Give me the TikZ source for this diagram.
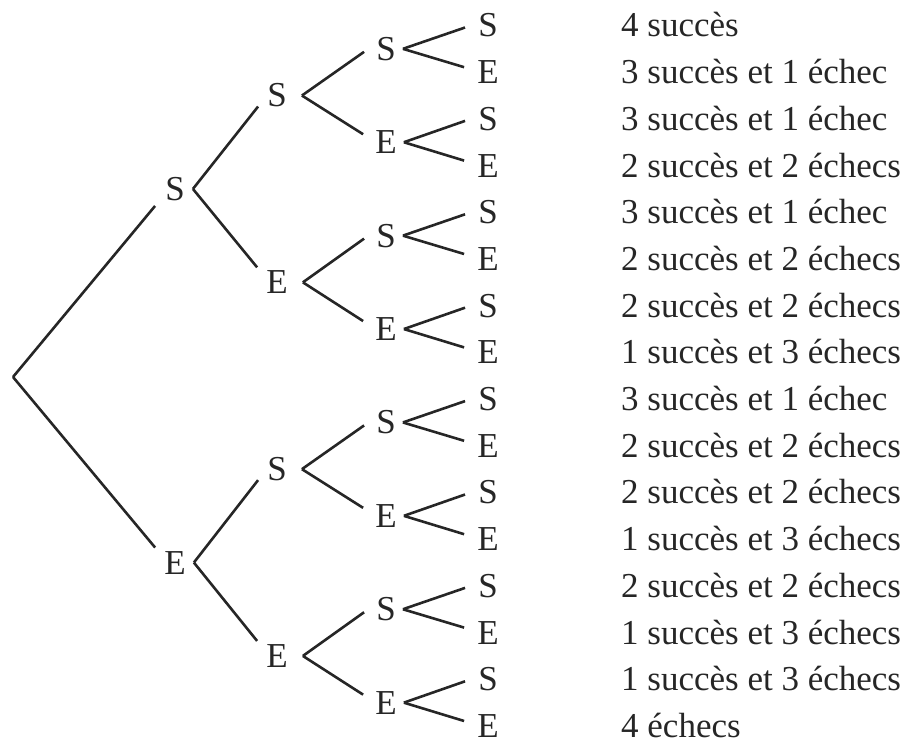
\documentclass[tikz,border=0pt]{standalone}
\usepackage{fontspec}
\setmainfont{Liberation Serif}
\definecolor{ink}{HTML}{262626}
\tikzset{
  lt/.style={inner sep=0pt, font=\fontsize{35}{42}\selectfont, text=ink},
  lab/.style={anchor=base west, inner sep=0pt, font=\fontsize{35}{42}\selectfont, text=ink},
  br/.style={draw=ink, line width=2.6pt}
}
\begin{document}
\begin{tikzpicture}[x=1pt,y=-1pt]
\useasboundingbox (0,0) rectangle (903,743);
\coordinate (n0-0) at (13,377);
% nodes of each level
\foreach \L/\m/\xx in {1/8/175, 2/4/277, 3/2/386, 4/1/488}{
  \pgfmathtruncatemacro\N{16/\m-1}
  \foreach \k in {0,...,\N}{
    \pgfmathsetmacro\yy{25.5+46.7*(\k*\m+(\m-1)/2)}
    \node[lt] (n\L-\k) at (\xx,\yy) {\ifodd\k E\else S\fi};
  }
}
% first branches from the root
\draw[br] (n0-0) -- ([xshift=-10pt,yshift=-17pt]n1-0.west);
\draw[br] (n0-0) -- ([xshift=-9pt,yshift=15pt]n1-1.west);
% other branches
\foreach \L/\P/\N/\g/\e/\u/\d in {2/1/3/8/-9/-11/15, 3/2/7/15/-12/-3/8, 4/3/15/7/-13/-2/5}{
  \foreach \k in {0,...,\N}{
    \pgfmathtruncatemacro\p{floor(\k/2)}
    \ifodd\k \def\dy{\d}\else \def\dy{\u}\fi
    \draw[br] ([xshift=\g pt]n\P-\p.east) -- ([xshift=\e pt,yshift=\dy pt]n\L-\k.west);
  }
}
% outcome labels
\foreach \t [count=\i from 0] in {4 succès, 3 succès et 1 échec, 3 succès et 1 échec, 2 succès et 2 échecs, 3 succès et 1 échec, 2 succès et 2 échecs, 2 succès et 2 échecs, 1 succès et 3 échecs, 3 succès et 1 échec, 2 succès et 2 échecs, 2 succès et 2 échecs, 1 succès et 3 échecs, 2 succès et 2 échecs, 1 succès et 3 échecs, 1 succès et 3 échecs, 4 échecs}{
  \node[lab] (t\i) at (621,0 |- n4-\i.base) {\t};
}
\end{tikzpicture}
\end{document}
